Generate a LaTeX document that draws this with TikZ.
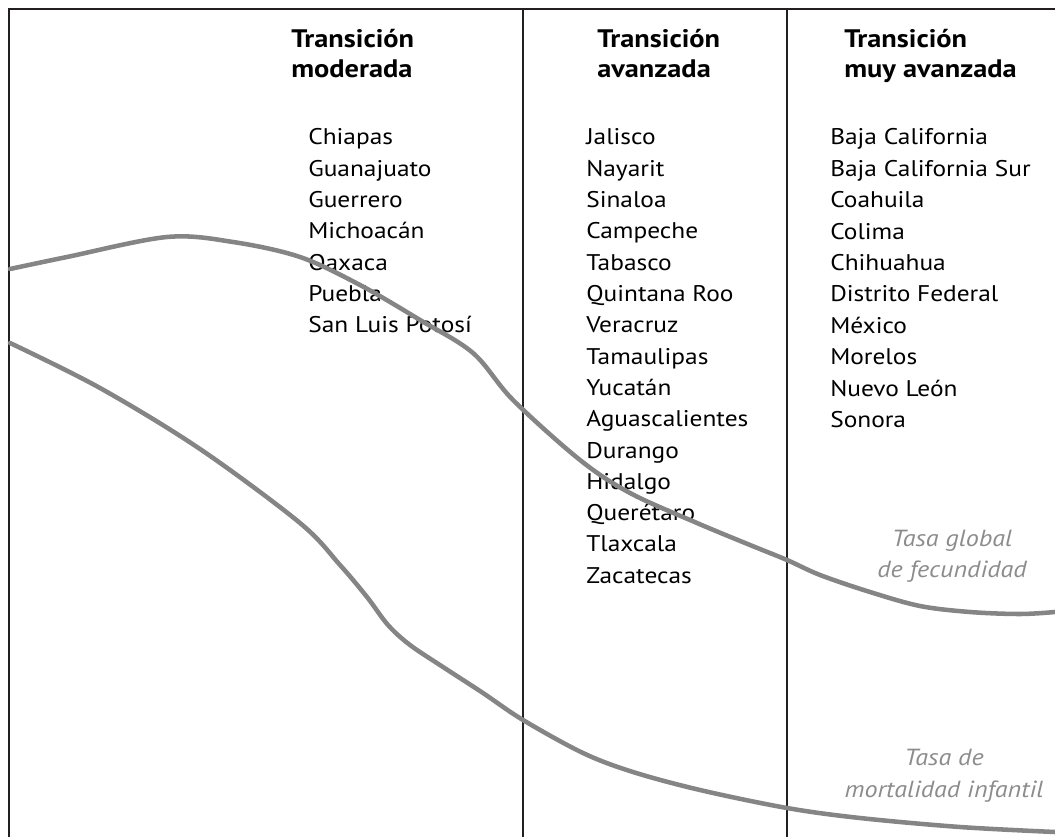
\documentclass[tikz,border=0pt]{standalone}
\usepackage{fontspec}
\setmainfont{PT Sans}[FakeStretch=1.12]
\definecolor{framecol}{HTML}{231F20}
\definecolor{curvecol}{HTML}{858585}
\definecolor{labelcol}{HTML}{8C8C8C}

\begin{document}
\begin{tikzpicture}[x=0.75pt, y=-0.75pt,
  frame/.style={draw=framecol, line width=1.5pt},
  rate/.style={draw=curvecol, line width=3.4pt, line cap=round},
  stage/.style={font=\fontsize{19}{22}\selectfont\bfseries, anchor=base west, inner sep=0pt},
  state/.style={font=\fontsize{17}{20}\selectfont, anchor=base west, inner sep=0pt},
  ratelabel/.style={font=\fontsize{17.5}{20}\selectfont\itshape, text=labelcol, anchor=base, inner sep=0pt}]
  \useasboundingbox (0,0) rectangle (1055,837);

  % frame and column rules
  \draw[frame, line width=2.2pt] (8,9) -- (1055,9);
  \draw[frame, line width=2.2pt] (9,8) -- (9,837);
  \draw[frame] (523,9) -- (523,837);
  \draw[frame] (787,9) -- (787,837);

  % column headings
  \node[stage] (mod1) at (291,48) {Transición};
  \node[stage] (mod2) at (291,78) {moderada};
  \node[stage] (ava1) at (597,48) {Transición};
  \node[stage] (ava2) at (597,78) {avanzada};
  \node[stage] (muy1) at (844,48) {Transición};
  \node[stage] (muy2) at (844,78) {muy avanzada};

  % states in each stage
  \foreach \st [count=\i] in {Chiapas, Guanajuato, Guerrero, Michoacán, Oaxaca, Puebla, San Luis Potosí}
    \node[state] (m-\i) at (308,{145+31.3*(\i-1)}) {\st};
  \foreach \st [count=\i] in {Jalisco, Nayarit, Sinaloa, Campeche, Tabasco, Quintana Roo, Veracruz, Tamaulipas, Yucatán, Aguascalientes, Durango, Hidalgo, Querétaro, Tlaxcala, Zacatecas}
    \node[state] (a-\i) at (586,{145+31.3*(\i-1)}) {\st};
  \foreach \st [count=\i] in {Baja California, Baja California Sur, Coahuila, Colima, Chihuahua, Distrito Federal, México, Morelos, Nuevo León, Sonora}
    \node[state] (v-\i) at (830,{145+31.4*(\i-1)}) {\st};

  % fertility and infant mortality curves
  \draw[rate] plot[smooth, tension=0.55] coordinates {(10,269) (67,257) (167,237) (233,242) (300,257) (360,285) (420,320) (473,353) (513,400) (580,460) (630,493) (697,523) (750,545) (787,560) (820,575) (870,592) (920,606) (970,612) (1020,614) (1055,612)};
  \draw[rate] plot[smooth, tension=0.55] coordinates {(10,343) (100,388) (200,449) (300,523) (340,565) (367,597) (388,625) (410,645) (443,667) (483,693) (523,720) (583,753) (633,772) (700,790) (787,808) (860,818) (960,827) (1055,832)};

  % curve labels
  \node[ratelabel] (tgf1) at (952,546) {Tasa global};
  \node[ratelabel] (tgf2) at (952,577) {de fecundidad};
  \node[ratelabel] (tmi1) at (944,765) {Tasa de};
  \node[ratelabel] (tmi2) at (944,797) {mortalidad infantil};
\end{tikzpicture}
\end{document}
